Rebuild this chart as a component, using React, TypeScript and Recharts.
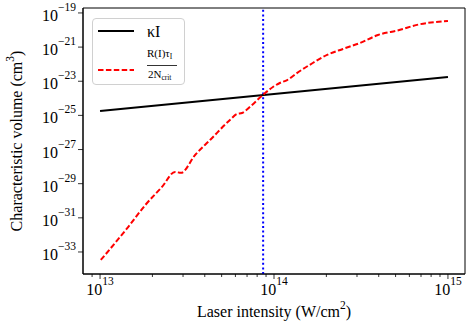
import React from 'react';
import { LineChart, Line, XAxis, YAxis, ReferenceLine, ReferenceArea, Legend } from 'recharts';

// kappa * I (straight line on log-log)
const kappaIntensity = [1e13, 1e15];
const kappaVolume = [1.8e-25, 1.8e-23];

// R(I) tau_I / 2 N_crit
const ratioIntensity = [
  1.01e13, 1.45e13, 1.82e13, 2.27e13, 2.7e13, 2.92e13, 3.52e13, 4.29e13, 5.58e13, 6.12e13,
  6.55e13, 7.48e13, 8.65e13, 9.86e13, 1.08e14, 1.19e14, 1.36e14, 1.67e14, 2.02e14, 2.49e14,
  3.12e14, 3.96e14, 5.25e14, 6.64e14, 1e15,
];
const ratioVolume = [
  3.4e-34, 2.9e-32, 5.6e-31, 6.5e-30, 4.9e-29, 4.3e-29, 4.8e-28, 3.6e-27, 5.4e-26, 1.2e-25,
  1.38e-25, 4.1e-25, 1.6e-24, 4.6e-24, 7.9e-24, 1.17e-23, 3.1e-23, 1.17e-22, 3.5e-22, 7.8e-22,
  1.74e-21, 5.1e-21, 1.0e-20, 2.0e-20, 3.4e-20,
];

const crossing = 8.66e13;

const xDomain = [10 ** 12.902, 10 ** 15.098];
const yDomain = [10 ** -34.29, 10 ** -18.71];
const xMajor = [1e13, 1e14, 1e15];
const xMinor = [9e12, 2e13, 3e13, 4e13, 5e13, 6e13, 7e13, 8e13, 9e13, 2e14, 3e14, 4e14, 5e14, 6e14, 7e14, 8e14, 9e14];
const yMajor = [1e-19, 1e-21, 1e-23, 1e-25, 1e-27, 1e-29, 1e-31, 1e-33];

const kappaData = kappaIntensity.map((x, i) => ({ x, v: kappaVolume[i] }));
const ratioData = ratioIntensity.map((x, i) => ({ x, v: ratioVolume[i] }));
const xTicks = [...xMajor, ...xMinor].sort((a, b) => a - b);

const SERIF = '"Liberation Serif", "DejaVu Serif", "Noto Serif", serif';

const exp = (v: number) => {
  const e = Math.round(Math.log10(v));
  return e < 0 ? '\u2212' + Math.abs(e) : String(e);
};

const XTick = ({ x, y, payload }: any) => {
  const major = xMajor.includes(payload.value);
  return (
    <g>
      <line x1={x} x2={x} y1={y} y2={y + (major ? 5 : 3)} stroke="#000" strokeWidth={0.8} />
      {major && (
        <text x={x} y={y + 21} textAnchor="middle" fontSize={16} fill="#000" fontFamily={SERIF}>
          <tspan>10</tspan>
          <tspan dy={-10} fontSize={11.5}>{exp(payload.value)}</tspan>
        </text>
      )}
    </g>
  );
};

const YTick = ({ x, y, payload }: any) => (
  <g>
    <line x1={x} x2={x - 5} y1={y} y2={y} stroke="#000" strokeWidth={0.8} />
    <text x={x - 7} y={y + 8} textAnchor="end" fontSize={16} fill="#000" fontFamily={SERIF}>
      <tspan>10</tspan>
      <tspan dy={-10} fontSize={11.5}>{exp(payload.value)}</tspan>
    </text>
  </g>
);

const LegendBox = () => (
  <div
    style={{
      width: 93,
      height: 67,
      boxSizing: 'border-box',
      border: '1px solid #d0d0d0',
      borderRadius: 4,
      background: 'rgba(255,255,255,0.8)',
    }}
  >
    <svg width={91} height={65} style={{ display: 'block' }} fontFamily={SERIF}>
      <line x1={5} x2={41} y1={12} y2={12} stroke="#000" strokeWidth={2} />
      <text x={54} y={18} fontSize={16} fill="#000">κI</text>
      <line x1={5} x2={41} y1={51} y2={51} stroke="#ff0000" strokeWidth={2} strokeDasharray="5.5 2.4" />
      <text x={54} y={38} fontSize={11} fill="#000">
        R(I)τ<tspan dy={2} fontSize={7.5}>I</tspan>
      </text>
      <line x1={54} x2={84} y1={46.5} y2={46.5} stroke="#000" strokeWidth={0.8} />
      <text x={55} y={59} fontSize={11} fill="#000">
        2N<tspan dy={2} fontSize={7.5}>crit</tspan>
      </text>
    </svg>
  </div>
);

export default function App() {
  return (
    <div
      style={{
        position: 'absolute',
        left: 0,
        top: 0,
        width: 470,
        height: 328,
        background: '#fff',
        fontFamily: SERIF,
      }}
    >
      <LineChart width={470} height={328} margin={{ top: 8, right: 5, bottom: 0, left: 0 }}>
        <XAxis
          dataKey="x"
          type="number"
          scale="log"
          domain={xDomain}
          allowDataOverflow
          ticks={xTicks}
          interval={0}
          tick={<XTick />}
          tickLine={false}
          tickSize={0}
          tickMargin={0}
          height={54}
          stroke="#000"
        />
        <YAxis
          type="number"
          scale="log"
          domain={yDomain}
          allowDataOverflow
          ticks={yMajor}
          interval={0}
          tick={<YTick />}
          tickLine={false}
          tickSize={0}
          tickMargin={0}
          width={83}
          stroke="#000"
        />
        <ReferenceArea
          x1={xDomain[0]}
          x2={xDomain[1]}
          y1={yDomain[0]}
          y2={yDomain[1]}
          fill="none"
          stroke="#000"
          strokeWidth={1}
          ifOverflow="visible"
        />
        <ReferenceLine x={crossing} stroke="#0000ff" strokeWidth={2} strokeDasharray="2 2.6" />
        <Line
          data={kappaData}
          dataKey="v"
          type="linear"
          stroke="#000"
          strokeWidth={2}
          dot={false}
          isAnimationActive={false}
          name="κI"
        />
        <Line
          data={ratioData}
          dataKey="v"
          type="monotone"
          stroke="#ff0000"
          strokeWidth={2}
          strokeDasharray="5.5 2.4"
          dot={false}
          isAnimationActive={false}
          name="R(I)τI/2Ncrit"
        />
        <Legend
          layout="vertical"
          align="center"
          verticalAlign="middle"
          content={<LegendBox />}
          wrapperStyle={{ position: 'absolute', left: 92, top: 18, width: 93, height: 67 }}
        />
      </LineChart>
      <svg
        width={470}
        height={328}
        fontFamily={SERIF}
        style={{ position: 'absolute', left: 0, top: 0, pointerEvents: 'none' }}
      >
        <text transform="rotate(-90)" x={-141} y={22} textAnchor="middle" fontSize={16} fill="#000">
          Characteristic volume (cm<tspan dy={-8} fontSize={11.5}>3</tspan>
          <tspan dy={8}>)</tspan>
        </text>
        <text x={274} y={317} textAnchor="middle" fontSize={16} fill="#000">
          Laser intensity (W/cm<tspan dy={-8} fontSize={11.5}>2</tspan>
          <tspan dy={8}>)</tspan>
        </text>
      </svg>
    </div>
  );
}
